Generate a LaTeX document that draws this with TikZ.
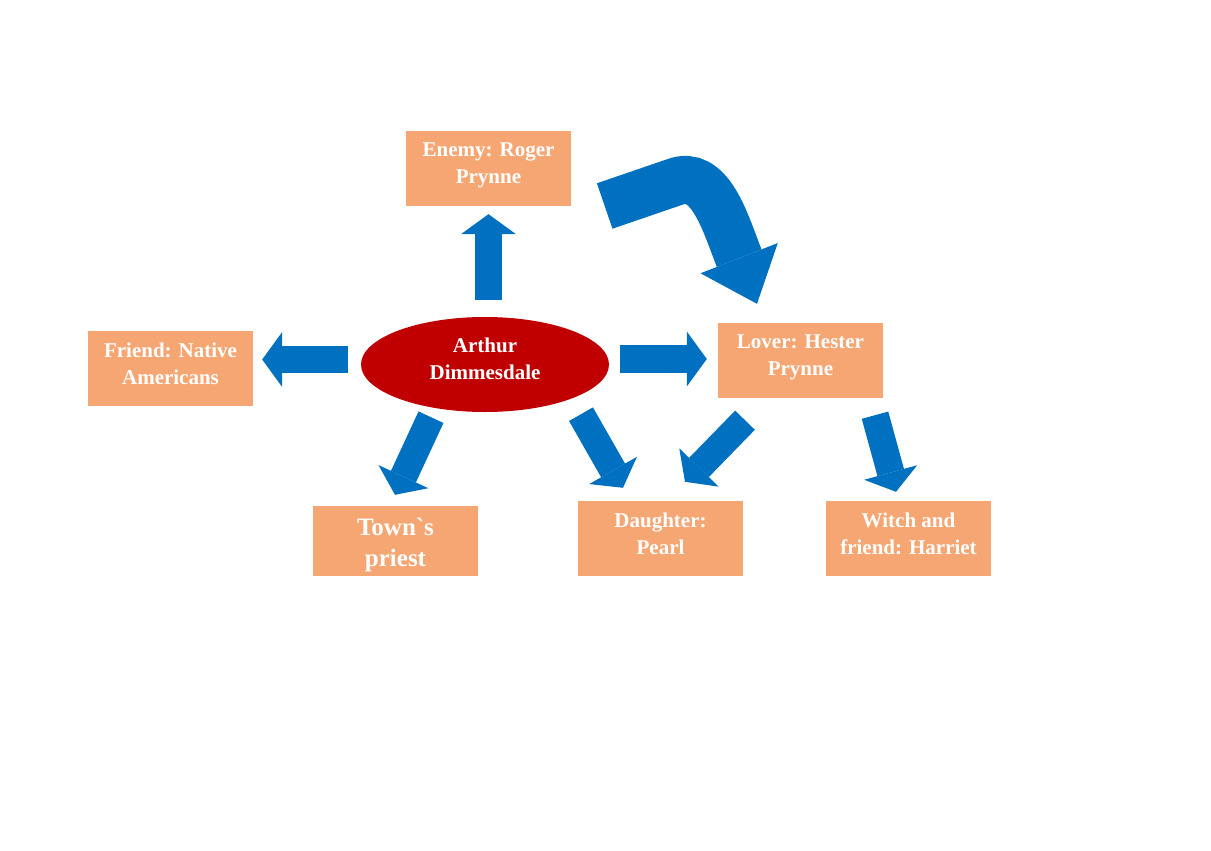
\documentclass[tikz,border=0pt]{standalone}
\usepackage{fontspec}
\setmainfont{Liberation Serif}
\usetikzlibrary{calc, shapes, shapes.geometric, arrows, arrows.meta}
\definecolor{boxorange}{RGB}{245,166,115}
\definecolor{ovalred}{RGB}{192,0,0}
\definecolor{arrowblue}{RGB}{0,112,192}
\tikzset{
  big box/.style={rectangle, fill=boxorange, minimum width=165pt, minimum height=75pt, inner sep=0,},
  big oval/.style={ellipse, fill=ovalred, minimum width=248pt, minimum height=95pt, inner sep=0,},
  big arrow/.style={arrowblue, line width=27.5pt, -{Triangle[length=20pt, width=55pt, line width=0pt]},},
  big arrow bend/.style={arrowblue, line width=48pt, -{Triangle[length=49pt, width=83pt, line width=0pt]},},
  lbl/.style={font=\fontsize{21}{27}\selectfont\bfseries, text=white, align=center, inner sep=0, yshift=5pt,},
  lbl big/.style={lbl, font=\fontsize{25}{31}\selectfont\bfseries, yshift=-9pt,}
}

\begin{document}
\begin{tikzpicture}[
  ,
  x=1pt, y=-1pt
  ]
\fill[white] (0,0) rectangle (1211,851);
\useasboundingbox (0,0) rectangle (1211,851);

\node[big oval, label={[lbl, yshift=1pt, name=n0l]center:{Arthur\\Dimmesdale}}] (n0) at (485,364.5) {};
\node[big box, label={[lbl, yshift=-2pt, name=n1l]center:{Enemy: Roger\\Prynne}}] (n1) at (488.5,168.5) {};
\node[big box, label={[lbl, name=n2l]center:{Friend: Native\\Americans}}] (n2) at (170.5,368.5) {};
\node[big box, label={[lbl, yshift=-2pt, name=n3l]center:{Lover: Hester\\Prynne}}] (n3) at (800.5,360.5) {};
\node[big box, minimum height=70pt, label={[lbl big, name=n4l]center:{Town\textasciigrave s\\priest}}] (n4) at (395.5,541) {};
\node[big box, label={[lbl, name=n5l]center:{Daughter:\\Pearl}}] (n5) at (660.5,538.5) {};
\node[big box, label={[lbl, name=n6l]center:{Witch and\\friend: Harriet}}] (n6) at (908.5,538.5) {};

\draw[big arrow, shorten <=17pt, shorten >=8pt] (n0.north -| n1.south) -- (n1.south);
\draw[big arrow, shorten <=13pt, shorten >=9pt] ([yshift=5pt]n0.west) -- ([yshift=9pt]n2.east);
\draw[big arrow, shorten <=11pt, shorten >=11pt] ([yshift=5.5pt]n0.east) -- ([yshift=1.5pt]n3.west);
\draw[big arrow] ($(n0.south)+(-54,5)$) -- ($(n4.north)+(-0.5,-11)$);
\draw[big arrow] ($(n0.south)+(96,2)$) -- ($(n5.north)+(-37.5,-13)$);
\draw[big arrow] ($(n3.south)+(-55.5,22)$) -- ($(n5.north)+(24.5,-19)$);
\draw[big arrow] ($(n3.south)+(74.5,17)$) -- ($(n6.north)+(-12.5,-9)$);
% bent arrow from enemy down to lover
\draw[big arrow bend] ($(n1.east)+(33.5,37.5)$) -- ($(n1.east)+(103.5,13.5)$)
  .. controls ($(n3.north)+(-90.5,-154)$) and ($(n3.north)+(-75.5,-101)$) .. ($(n3.north)+(-61.5,-65)$)
  -- ($(n3.north)+(-43.5,-19)$);

\end{tikzpicture}
\end{document}
